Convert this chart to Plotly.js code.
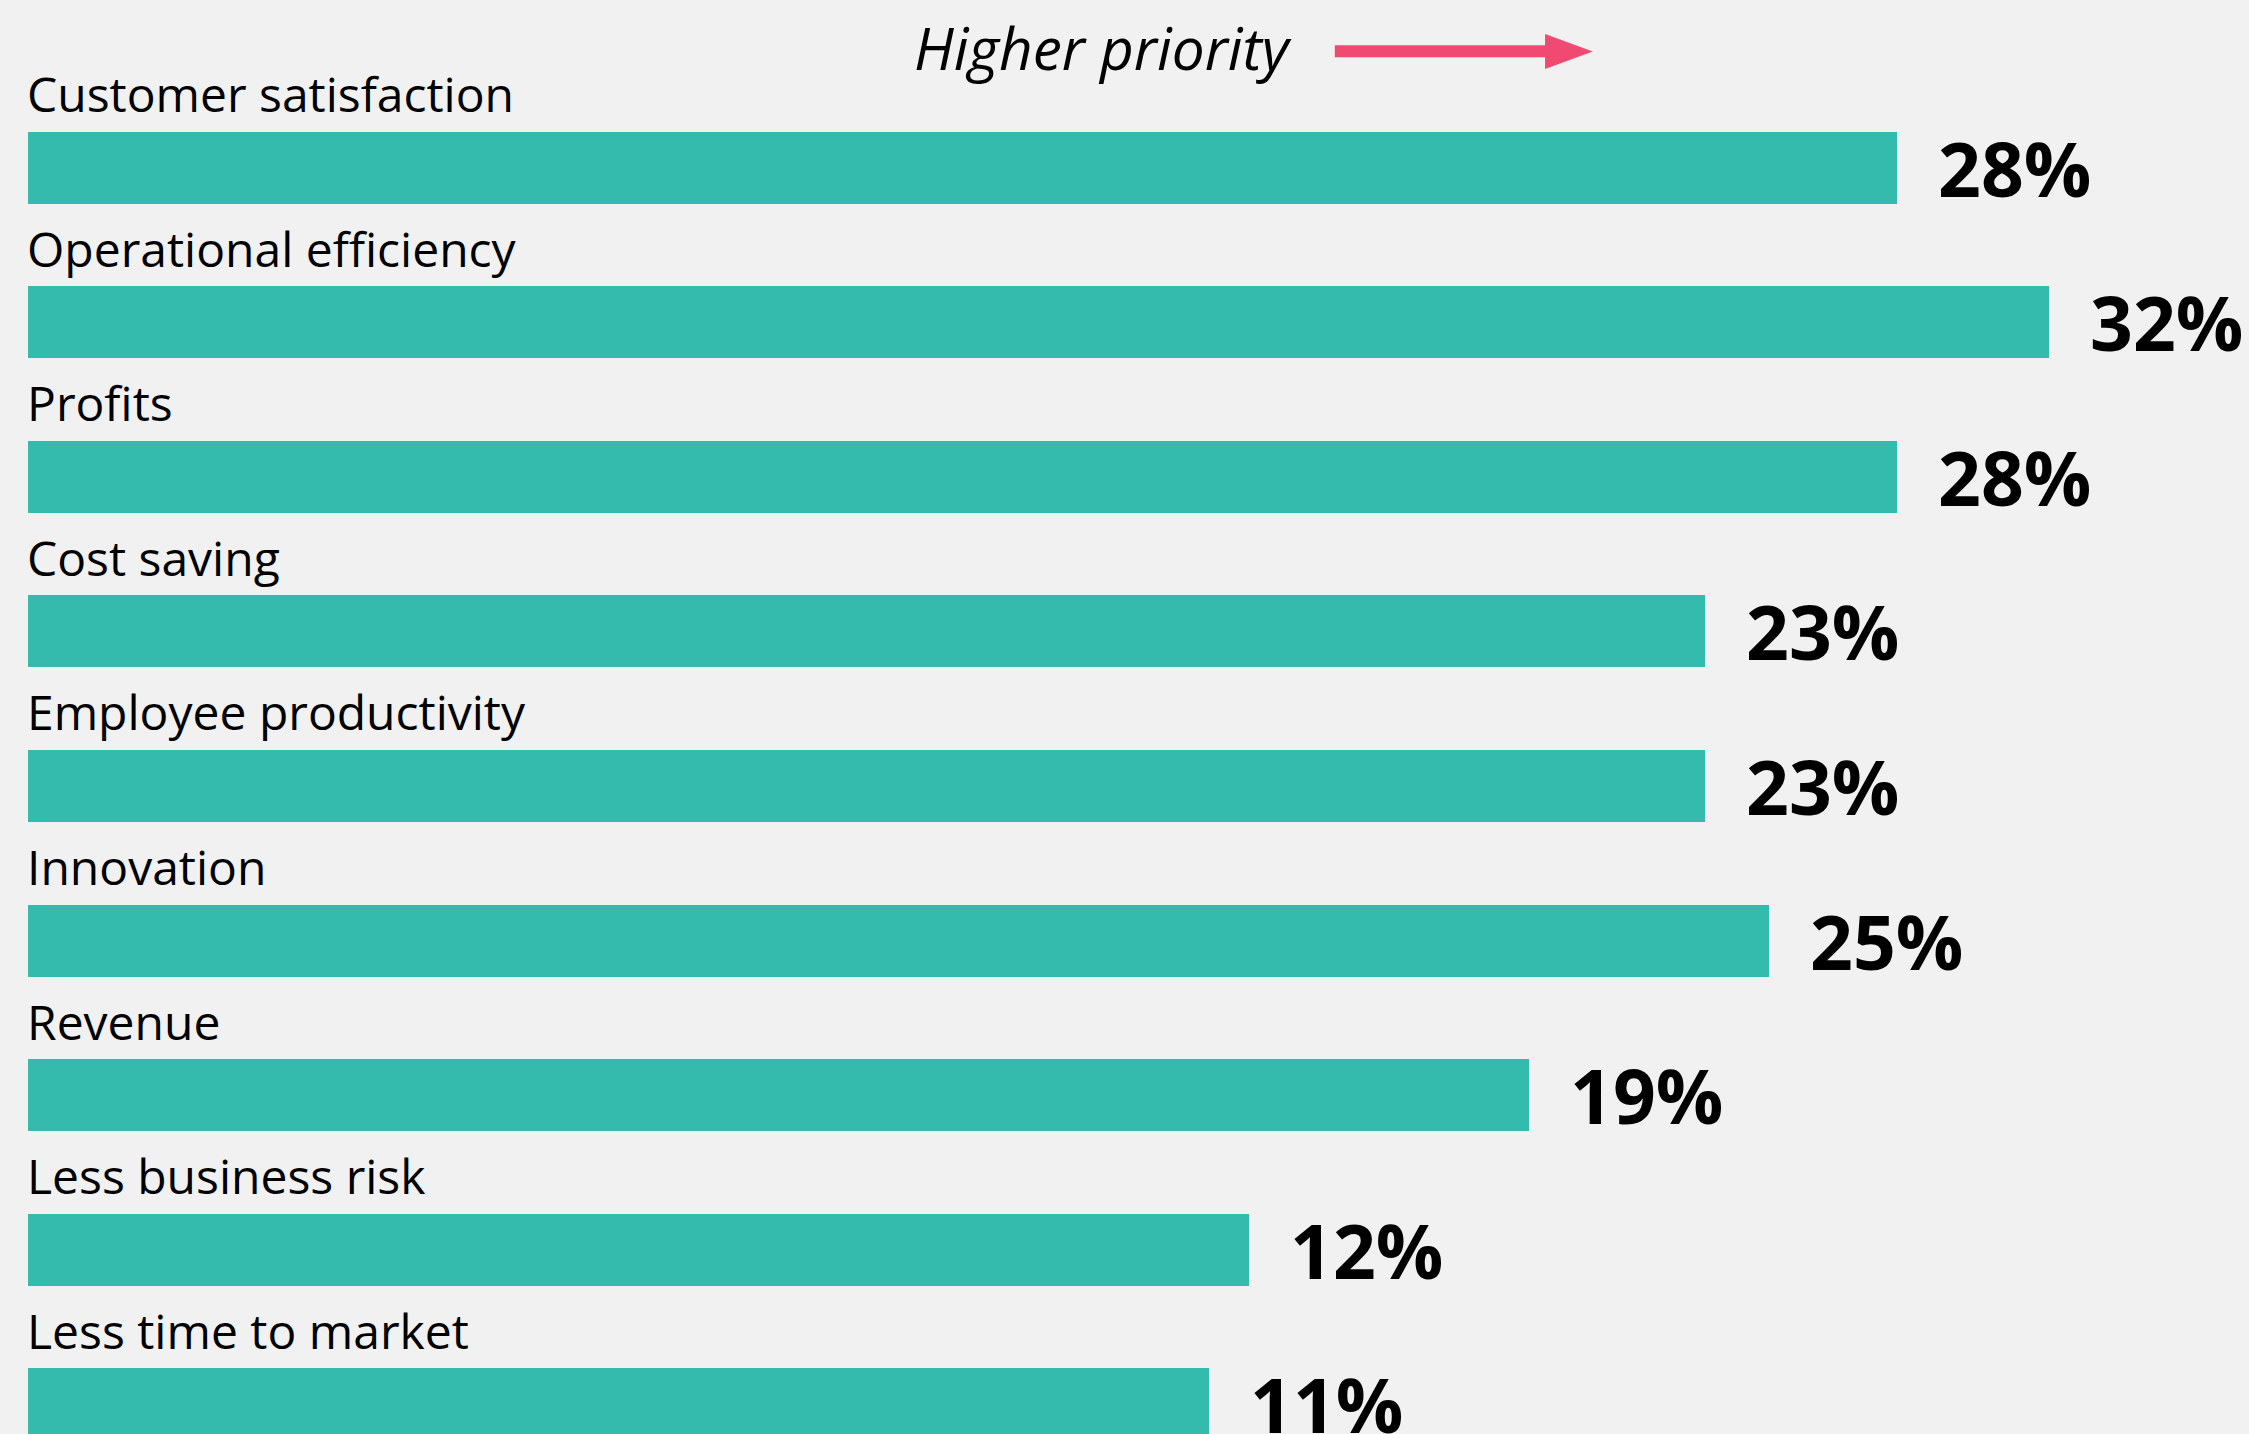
<!DOCTYPE html>
<html>
<head>
<meta charset="utf-8">
<script src="https://cdn.plot.ly/plotly-3.0.1.min.js"></script>
<style>
  body { margin: 0; background: #f1f1f1; }
  #chart { width: 2249px; height: 1434px; }
</style>
</head>
<body>
<div id="chart"></div>
<script>
// what each goal scored, top to bottom
const categories = ['Customer satisfaction', 'Operational efficiency', 'Profits', 'Cost saving',
    'Employee productivity', 'Innovation', 'Revenue', 'Less business risk', 'Less time to market'];
const shares = [28.2, 32, 28.2, 23.4, 23.4, 25, 19, 12, 11];

// the bars do not start at zero: every bar carries the same lead-in before its share
const barLead = 18.52;
const barColor = '#34bbad';
const arrowColor = '#f04a72';

let leadTrace = {
    type: 'bar',
    orientation: 'h',
    y: categories,
    x: categories.map(() => barLead),
    width: 0.466,
    marker: {color: barColor, line: {width: 0}},
    hoverinfo: 'skip',
};

let shareTrace = {
    type: 'bar',
    orientation: 'h',
    y: categories,
    x: shares,
    width: 0.466,
    marker: {color: barColor, line: {width: 0}},
    hovertemplate: '%{y}: %{x:.0f}%<extra></extra>',
};

let annotations = [];

// label above every bar
for (let i = 0; i < categories.length; i++) {
    annotations.push({
        xref: 'x', yref: 'y',
        x: 0, y: categories[i],
        xanchor: 'left', yanchor: 'middle',
        xshift: -3, yshift: 74,
        text: categories[i],
        showarrow: false,
        font: {family: 'Open Sans', size: 48, color: '#000'},
    });
}

// share at the end of every bar
for (let i = 0; i < shares.length; i++) {
    annotations.push({
        xref: 'x', yref: 'y',
        x: barLead + shares[i], y: categories[i],
        xanchor: 'left', yanchor: 'middle',
        xshift: 39,
        text: Math.round(shares[i]) + '%',
        showarrow: false,
        font: {family: 'Open Sans', size: 75, color: '#000', weight: 'bold'},
    });
}

// heading
annotations.push({
    xref: 'paper', yref: 'paper',
    x: 0.4055, y: 0.9672,
    xanchor: 'left', yanchor: 'middle',
    text: 'Higher priority',
    showarrow: false,
    font: {family: 'Open Sans', size: 58.5, color: '#000', style: 'italic'},
});

// arrow next to the heading: shaft and head
let shapes = [
    {
        type: 'line', xref: 'paper', yref: 'paper',
        x0: 0.5935, y0: 0.9642, x1: 0.6892, y1: 0.9642,
        line: {color: arrowColor, width: 12},
    },
    {
        type: 'path', xref: 'paper', yref: 'paper',
        path: 'M0.6870,0.9763 L0.6870,0.9519 L0.7082,0.9641 Z',
        fillcolor: arrowColor,
        line: {width: 0},
    },
];

let layout = {
    width: 2249,
    height: 1434,
    margin: {l: 0, r: 0, t: 0, b: 0},
    paper_bgcolor: '#f1f1f1',
    plot_bgcolor: '#f1f1f1',
    barmode: 'stack',
    showlegend: false,
    xaxis: {
        range: [-0.7075, 55.52],
        visible: false,
        fixedrange: true,
    },
    yaxis: {
        type: 'category',
        range: [8.194, -1.087],
        visible: false,
        fixedrange: true,
    },
    annotations: annotations,
    shapes: shapes,
};

let config = {displayModeBar: false, responsive: false};
Plotly.newPlot('chart', [leadTrace, shareTrace], layout, config);
</script>
</body>
</html>
